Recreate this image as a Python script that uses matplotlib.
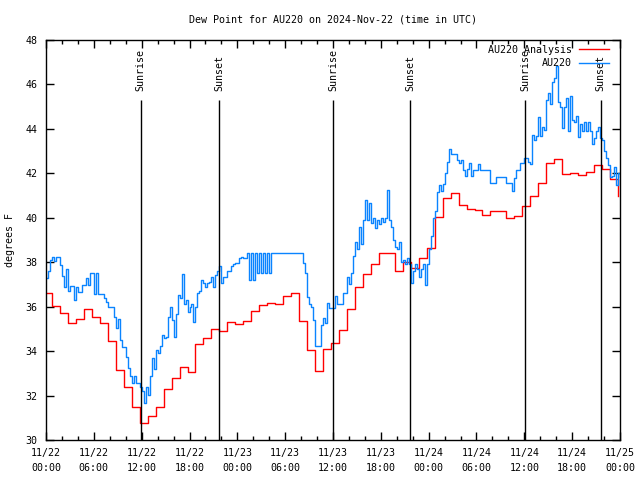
import numpy as np
import matplotlib
matplotlib.use("Agg")
import matplotlib.pyplot as plt
from matplotlib.ticker import MultipleLocator

# hourly analysis values (each step starts 15 min before the hour)
analysis_dewpt = [
    36.6, 36.05, 35.7, 35.25, 35.43, 35.88, 35.55, 35.25, 34.46, 33.15,
    32.37, 31.47, 30.75, 31.1, 31.47, 32.28, 32.78, 33.28, 33.05, 34.32,
    34.6, 34.98, 34.92, 35.32, 35.22, 35.35, 35.82, 36.06, 36.16, 36.12,
    36.48, 36.6, 35.36, 34.05, 33.12, 34.1, 34.35, 34.96, 35.88, 36.87,
    37.49, 37.9, 38.4, 38.4, 37.62, 38.02, 37.72, 38.17, 38.65, 40.05,
    40.87, 41.1, 40.56, 40.4, 40.35, 40.11, 40.29, 40.29, 39.98, 40.1,
    40.53, 40.98, 41.58, 42.45, 42.63, 41.97, 42.03, 41.91, 42.06, 42.36,
    42.21, 41.76, 40.98,
]

# station obs, every 15 minutes from 11/22 00:00 UTC
station_dewpt = [
    37.3, 37.6, 38.1, 38.25,   38.07, 38.25, 38.25, 37.86,
    37.4, 36.9, 37.7, 36.7,    36.95, 36.95, 36.3, 36.9,
    36.65, 36.65, 36.96, 36.96,  37.28, 36.96, 37.53, 37.53,
    36.57, 37.53, 36.57, 36.57,  36.57, 36.4, 36.23, 36.0,
    36.0, 36.0, 35.52, 35.02,  35.43, 34.5, 34.17, 34.17,
    33.75, 33.23, 32.88, 32.58,  32.88, 32.58, 32.58, 32.4,
    32.2, 31.65, 32.4, 32.03,  32.9, 33.68, 33.2, 34.05,
    33.9, 34.23, 34.73, 34.6,  34.65, 35.55, 36.0, 35.4,
    34.65, 35.67, 36.52, 36.4,  37.47, 36.12, 36.3, 35.77,
    36.0, 36.1, 35.32, 36.0,   36.6, 36.7, 37.2, 37.05,
    36.9, 37.05, 37.1, 37.35,  36.9, 37.43, 37.62, 37.83,
    37.08, 37.35, 37.35, 37.62,  37.62, 37.83, 37.92, 37.95,
    37.95, 38.2, 38.22, 38.2,  38.2, 38.43, 37.2, 38.43,
    37.2, 38.43, 37.5, 38.43,  37.5, 38.43, 37.5, 38.43,
    37.5, 38.43, 38.43, 38.43,  38.43, 38.43, 38.43, 38.43,
    38.43, 38.43, 38.43, 38.43,  38.43, 38.43, 38.43, 38.43,
    38.43, 37.95, 37.5, 36.45,  36.1, 36.0, 35.4, 34.23,
    34.23, 34.23, 35.17, 35.5,  35.25, 36.15, 35.93, 35.93,
    35.93, 36.5, 36.12, 36.12,  36.12, 36.6, 36.6, 37.35,
    37.0, 37.5, 38.3, 38.93,   38.6, 39.6, 38.8, 39.9,
    40.8, 39.9, 40.65, 39.75,  40.0, 39.53, 39.9, 39.7,
    40.0, 39.8, 40.0, 41.25,   39.9, 39.6, 39.0, 38.7,
    38.6, 38.9, 38.0, 38.1,    37.9, 38.2, 37.9, 37.05,
    37.6, 37.9, 37.7, 37.35,   37.7, 37.9, 36.98, 37.9,
    38.6, 39.2, 40.0, 40.3,    41.18, 41.48, 41.2, 41.5,
    42.0, 42.5, 43.08, 42.87,  42.87, 42.87, 42.6, 42.45,
    42.6, 42.15, 41.88, 42.2,  42.45, 41.88, 42.15, 42.15,
    42.15, 42.42, 42.15, 42.15,  42.15, 42.15, 42.15, 41.55,
    41.55, 41.55, 41.83, 41.83,  41.83, 41.83, 41.83, 41.55,
    41.55, 41.55, 41.2, 41.8,  42.15, 42.15, 42.45, 42.45,
    42.68, 42.68, 42.5, 42.42,  43.73, 43.5, 43.7, 44.55,
    43.7, 44.1, 43.95, 45.3,   45.6, 45.1, 46.13, 46.3,
    46.83, 45.2, 45.0, 44.03,  45.0, 45.4, 43.9, 45.5,
    44.4, 44.3, 44.6, 43.65,   44.2, 43.9, 44.3, 43.9,
    44.3, 43.9, 43.3, 43.6,    43.9, 44.1, 43.6, 43.5,
    43.0, 42.7, 42.37, 41.85,  41.9, 42.3, 41.48, 42.0,
    41.85,
]

# hours after 11/22 00:00 UTC
sun_hours = [11.9, 21.7, 36.0, 45.7, 60.1, 69.6]
sun_labels = ["Sunrise", "Sunset", "Sunrise", "Sunset", "Sunrise", "Sunset"]

tick_labels = ["11/22\n00:00", "11/22\n06:00", "11/22\n12:00", "11/22\n18:00",
               "11/23\n00:00", "11/23\n06:00", "11/23\n12:00", "11/23\n18:00",
               "11/24\n00:00", "11/24\n06:00", "11/24\n12:00", "11/24\n18:00",
               "11/25\n00:00"]

plt.rcParams["font.family"] = ["DejaVu Sans Mono"]
fs = 7.2

fig = plt.figure(figsize=(6.4, 4.8), dpi=100)
ax = fig.add_axes([46 / 640, 40 / 480, 574 / 640, 400 / 480])

red_t = np.arange(len(analysis_dewpt)) - 0.25
red_t[0] = 0.0
blue_t = np.arange(len(station_dewpt)) * 0.25

ax.step(red_t, analysis_dewpt, where="post", color="#ff0000", lw=1.0,
        label="AU220 Analysis")
ax.step(blue_t, station_dewpt, where="post", color="#0a84ff", lw=1.0,
        label="AU220")

ax.vlines(sun_hours, 30, 45.3, color="black", lw=1.0)
for h, lab in zip(sun_hours, sun_labels):
    ax.text(h, 45.7, lab, rotation=90, ha="center", va="bottom",
            fontsize=fs, color="black")

ax.set_xlim(0, 72)
ax.set_ylim(30, 48)
ax.set_xticks(np.arange(0, 73, 6))
ax.set_xticklabels(tick_labels, linespacing=1.55)
ax.xaxis.set_minor_locator(MultipleLocator(2))
ax.set_yticks(np.arange(30, 49, 2))
ax.tick_params(which="both", direction="in", top=True, right=True,
               labelsize=fs, width=1.0)
ax.tick_params(which="major", length=6)
ax.tick_params(axis="x", which="major", pad=6)
ax.tick_params(axis="y", which="major", pad=6)
ax.tick_params(which="minor", length=3)
for s in ax.spines.values():
    s.set_linewidth(1.0)

ax.set_ylabel("degrees F", fontsize=fs, labelpad=8)
ax.set_title("Dew Point for AU220 on 2024-Nov-22 (time in UTC)",
             fontsize=fs, pad=12.5)

ax.legend(loc="upper right", bbox_to_anchor=(1 - 5 / 574, 1 + 1 / 400),
          frameon=False, fontsize=fs, markerfirst=False,
          handlelength=3.0, handletextpad=0.7, labelspacing=0.35,
          borderaxespad=0.4, borderpad=0.2)

fig.savefig("out.png", dpi=100)
